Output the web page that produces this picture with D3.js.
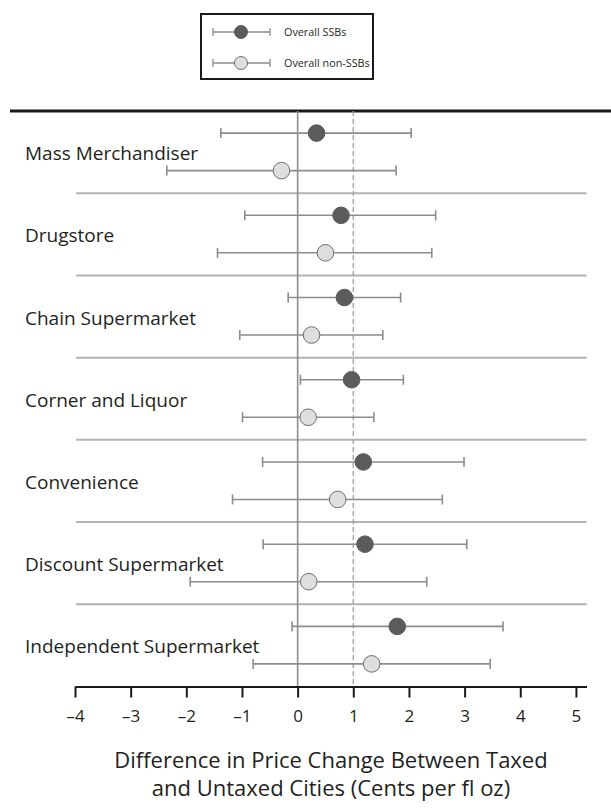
<!DOCTYPE html>
<html>
<head>
<meta charset="utf-8">
<script src="https://cdn.jsdelivr.net/npm/d3@7"></script>
<style>
  html, body { margin: 0; padding: 0; background: #fff; }
  svg { display: block; font-family: "Open Sans", "Noto Sans", sans-serif; }
</style>
</head>
<body>
<svg id="chart" width="611" height="812"></svg>
<script>
// Store types, top to bottom
const categories = [
  "Mass Merchandiser",
  "Drugstore",
  "Chain Supermarket",
  "Corner and Liquor",
  "Convenience",
  "Discount Supermarket",
  "Independent Supermarket"
];

// Overall SSBs: estimate and 95% interval (cents per fl oz)
const ssbEstimate = [0.34, 0.78, 0.84, 0.97, 1.18, 1.21, 1.79];
const ssbLower    = [-1.38, -0.95, -0.17, 0.05, -0.63, -0.62, -0.10];
const ssbUpper    = [2.04, 2.48, 1.85, 1.90, 2.99, 3.04, 3.69];

// Overall non-SSBs: estimate and 95% interval
const nonEstimate = [-0.29, 0.50, 0.25, 0.19, 0.72, 0.20, 1.33];
const nonLower    = [-2.35, -1.44, -1.04, -0.99, -1.17, -1.93, -0.80];
const nonUpper    = [1.77, 2.41, 1.53, 1.37, 2.60, 2.32, 3.46];

const seriesNames = ["Overall SSBs", "Overall non-SSBs"];
const xTicks = [-4, -3, -2, -1, 0, 1, 2, 3, 4, 5];
const taxLevel = 1; // full pass-through of the 1-cent tax

const series = [
  { name: seriesNames[0], est: ssbEstimate, lo: ssbLower, hi: ssbUpper, fill: "#5b5b5b", stroke: "#5b5b5b", offset: -19 },
  { name: seriesNames[1], est: nonEstimate, lo: nonLower, hi: nonUpper, fill: "#dedede", stroke: "#6e6e6e", offset: 18.5 }
];

const svg = d3.select("#chart");
const barColor = "#8c8c8c";
const textColor = "#231f20";

const x = d3.scaleLinear().domain([-4, 5.19]).range([75, 586.5]);
const y = d3.scaleBand().domain(categories).range([111, 686.5]).padding(0);

// Bold rule across the top of the panel
svg.append("line")
  .attr("x1", 10).attr("x2", 611)
  .attr("y1", y.range()[0]).attr("y2", y.range()[0])
  .attr("stroke", "#1a1a1a").attr("stroke-width", 3);

// Separators between store types
svg.append("g").selectAll("line")
  .data(categories.slice(1))
  .join("line")
  .attr("x1", x(-4) + 1).attr("x2", x.range()[1])
  .attr("y1", d => y(d)).attr("y2", d => y(d))
  .attr("stroke", "#b3b3b3").attr("stroke-width", 2);

// Zero line and tax-level reference line
svg.append("line")
  .attr("x1", x(0)).attr("x2", x(0))
  .attr("y1", y.range()[0]).attr("y2", y.range()[1])
  .attr("stroke", "#8c8c8c").attr("stroke-width", 1.6);
svg.append("line")
  .attr("x1", x(taxLevel)).attr("x2", x(taxLevel))
  .attr("y1", y.range()[0]).attr("y2", y.range()[1])
  .attr("stroke", "#a6a6a6").attr("stroke-width", 1.4)
  .attr("stroke-dasharray", "5,3");

// Category labels
svg.append("g").selectAll("text")
  .data(categories)
  .join("text")
  .attr("x", 25)
  .attr("y", d => y(d) + y.bandwidth() / 2 + 8)
  .attr("font-size", 19)
  .attr("fill", textColor)
  .text(d => d);

// Error bars and points
const capH = 5;
series.forEach(s => {
  const g = svg.append("g");
  const rows = categories.map((c, i) => ({ c, est: s.est[i], lo: s.lo[i], hi: s.hi[i], cy: y(c) + y.bandwidth() / 2 + s.offset }));
  g.selectAll(".bar").data(rows).join("line")
    .attr("x1", d => x(d.lo)).attr("x2", d => x(d.hi))
    .attr("y1", d => d.cy).attr("y2", d => d.cy)
    .attr("stroke", barColor).attr("stroke-width", 1.6);
  g.selectAll(".capL").data(rows).join("line")
    .attr("x1", d => x(d.lo)).attr("x2", d => x(d.lo))
    .attr("y1", d => d.cy - capH).attr("y2", d => d.cy + capH)
    .attr("stroke", barColor).attr("stroke-width", 1.6);
  g.selectAll(".capR").data(rows).join("line")
    .attr("x1", d => x(d.hi)).attr("x2", d => x(d.hi))
    .attr("y1", d => d.cy - capH).attr("y2", d => d.cy + capH)
    .attr("stroke", barColor).attr("stroke-width", 1.6);
  g.selectAll("circle").data(rows).join("circle")
    .attr("cx", d => x(d.est)).attr("cy", d => d.cy)
    .attr("r", 8.3)
    .attr("fill", s.fill).attr("stroke", s.stroke).attr("stroke-width", 1);
});

// X axis
const axis = d3.axisBottom(x)
  .tickValues(xTicks)
  .tickSize(11)
  .tickSizeOuter(0)
  .tickPadding(12)
  .tickFormat(d => (d < 0 ? "\u2013" + Math.abs(d) : String(d)));
const ax = svg.append("g")
  .attr("transform", `translate(0,${y.range()[1]})`)
  .call(axis);
ax.select(".domain").attr("stroke", "#1a1a1a").attr("stroke-width", 2);
ax.selectAll(".tick line").attr("stroke", "#1a1a1a").attr("stroke-width", 2);
ax.selectAll(".tick text")
  .attr("font-family", "Open Sans, sans-serif")
  .attr("font-size", 17)
  .attr("fill", textColor);

// Axis title
const title = svg.append("text")
  .attr("text-anchor", "middle")
  .attr("font-size", 22)
  .attr("fill", textColor);
title.append("tspan").attr("x", 331).attr("y", 768).text("Difference in Price Change Between Taxed");
title.append("tspan").attr("x", 331).attr("y", 796).text("and Untaxed Cities (Cents per fl oz)");

// Legend
const legend = svg.append("g");
legend.append("rect")
  .attr("x", 201).attr("y", 14).attr("width", 172).attr("height", 65)
  .attr("fill", "#fff").attr("stroke", "#1a1a1a").attr("stroke-width", 2);
const legItems = legend.selectAll(".item")
  .data(series)
  .join("g")
  .attr("transform", (d, i) => `translate(0,${32 + i * 31})`);
legItems.append("line")
  .attr("x1", 213).attr("x2", 270).attr("y1", 0).attr("y2", 0)
  .attr("stroke", barColor).attr("stroke-width", 1.3);
legItems.append("line")
  .attr("x1", 213).attr("x2", 213).attr("y1", -4).attr("y2", 4)
  .attr("stroke", barColor).attr("stroke-width", 1.3);
legItems.append("line")
  .attr("x1", 270).attr("x2", 270).attr("y1", -4).attr("y2", 4)
  .attr("stroke", barColor).attr("stroke-width", 1.3);
legItems.append("circle")
  .attr("cx", 241).attr("cy", 0).attr("r", 6.5)
  .attr("fill", d => d.fill).attr("stroke", d => d.stroke).attr("stroke-width", 1);
legItems.append("text")
  .attr("x", 284).attr("y", 4)
  .attr("font-size", 10.8)
  .attr("fill", textColor)
  .text(d => d.name);
</script>
</body>
</html>
